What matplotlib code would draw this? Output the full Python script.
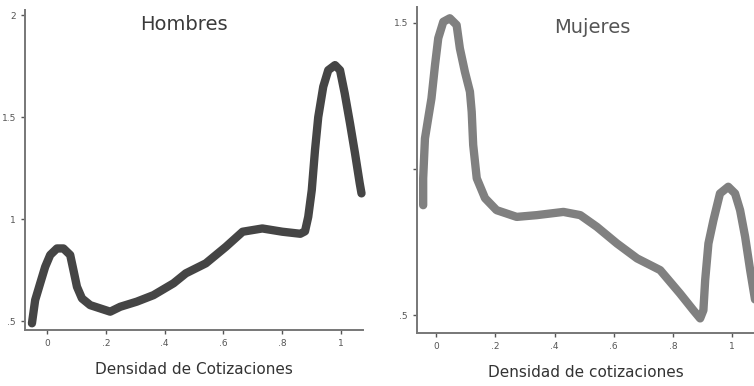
import matplotlib.pyplot as plt
import numpy as np

# Hombres: densidad estimada vs. densidad de cotizaciones
hombres_x = [-0.051, -0.04, -0.023, -0.006, 0.011, 0.034, 0.056, 0.079, 0.09, 0.102,
             0.119, 0.147, 0.181, 0.215, 0.249, 0.305, 0.362, 0.43, 0.472, 0.54,
             0.608, 0.665, 0.732, 0.80, 0.861, 0.877, 0.888, 0.90, 0.911, 0.922,
             0.939, 0.956, 0.979, 0.996, 1.012, 1.03, 1.047, 1.063, 1.069]
hombres_y = [0.489, 0.603, 0.685, 0.766, 0.824, 0.856, 0.856, 0.824, 0.75, 0.668,
             0.611, 0.578, 0.562, 0.546, 0.57, 0.595, 0.627, 0.685, 0.734, 0.783,
             0.864, 0.938, 0.954, 0.938, 0.928, 0.94, 1.011, 1.142, 1.338, 1.50,
             1.649, 1.73, 1.755, 1.73, 1.616, 1.469, 1.322, 1.175, 1.126]

# Mujeres
mujeres_x = [-0.044, -0.044, -0.038, -0.027, -0.016, -0.004, 0.007, 0.024, 0.046, 0.069,
             0.08, 0.097, 0.114, 0.12, 0.125, 0.137, 0.165, 0.204, 0.272, 0.34,
             0.43, 0.487, 0.543, 0.611, 0.679, 0.757, 0.824, 0.869, 0.892, 0.903,
             0.909, 0.92, 0.937, 0.959, 0.987, 1.01, 1.027, 1.044, 1.061, 1.078]
mujeres_y = [0.876, 0.968, 1.104, 1.173, 1.241, 1.355, 1.447, 1.503, 1.515, 1.492,
             1.412, 1.332, 1.264, 1.195, 1.082, 0.968, 0.90, 0.859, 0.836, 0.842,
             0.853, 0.842, 0.802, 0.745, 0.694, 0.654, 0.574, 0.517, 0.489, 0.517,
             0.62, 0.745, 0.825, 0.916, 0.939, 0.916, 0.859, 0.768, 0.654, 0.55]

x_ticks = [0, 0.2, 0.4, 0.6, 0.8, 1.0]
x_labels = ["0", ".2", ".4", ".6", ".8", "1"]

fig = plt.figure(figsize=(7.54, 3.86), dpi=100)

def style_axes(ax):
    for s in ["top", "right"]:
        ax.spines[s].set_visible(False)
    for s in ["left", "bottom"]:
        ax.spines[s].set_color("#777777")
        ax.spines[s].set_linewidth(1.4)
    ax.tick_params(colors="#555555", labelsize=6.5, length=3, width=1, direction="out")
    ax.set_xticks(x_ticks)
    ax.set_xticklabels(x_labels)
    ax.set_facecolor("white")

# Panel izquierdo
ax1 = fig.add_axes([0.033, 0.145, 0.448, 0.829])
ax1.plot(hombres_x, hombres_y, color="#454545", lw=6, solid_capstyle="round",
         solid_joinstyle="round", clip_on=False)
ax1.set_xlim(-0.075, 1.073)
ax1.set_ylim(0.456, 2.025)
ax1.set_yticks([0.5, 1.0, 1.5, 2.0])
ax1.set_yticklabels([".5", "1", "1.5", "2"])
style_axes(ax1)
ax1.text(0.47, 0.985, "Hombres", transform=ax1.transAxes, ha="center", va="top",
         fontsize=14, color="#3a3a3a")
ax1.set_xlabel("Densidad de Cotizaciones", fontsize=11, color="#333333", labelpad=10)

# Panel derecho
ax2 = fig.add_axes([0.553, 0.138, 0.447, 0.845])
ax2.plot(mujeres_x, mujeres_y, color="#808080", lw=6, solid_capstyle="round",
         solid_joinstyle="round")
ax2.set_xlim(-0.065, 1.074)
ax2.set_ylim(0.44, 1.555)
ax2.set_yticks([0.5, 1.0, 1.5])
ax2.set_yticklabels([".5", "", "1.5"])
style_axes(ax2)
ax2.text(0.52, 0.965, "Mujeres", transform=ax2.transAxes, ha="center", va="top",
         fontsize=14, color="#555555")
ax2.set_xlabel("Densidad de cotizaciones", fontsize=11, color="#333333", labelpad=10)

plt.savefig("out.png", dpi=100)
